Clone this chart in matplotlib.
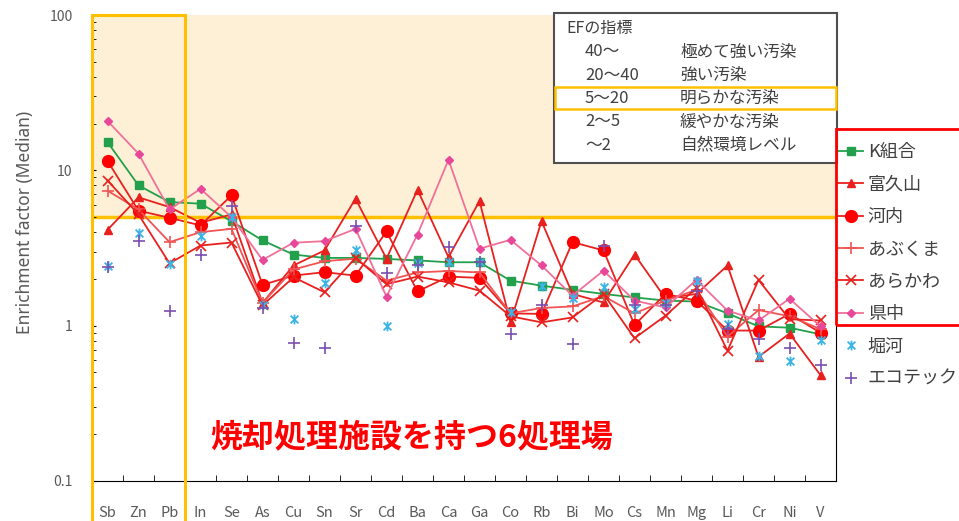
"""Median enrichment factors per element for eight disposal sites (log scale)."""

import matplotlib

matplotlib.use("Agg")
import matplotlib.pyplot as plt  # noqa: E402
import matplotlib.transforms as mtransforms  # noqa: E402
import numpy as np  # noqa: E402
from matplotlib.path import Path  # noqa: E402
from matplotlib.patches import Rectangle  # noqa: E402
from matplotlib.ticker import FixedFormatter, FixedLocator, LogLocator  # noqa: E402

plt.rcParams["font.family"] = ["Noto Sans CJK JP", "DejaVu Sans"]

W, H = 959, 521

elements = ["Sb", "Zn", "Pb", "In", "Se", "As", "Cu", "Sn", "Sr", "Cd", "Ba", "Ca",
            "Ga", "Co", "Rb", "Bi", "Mo", "Cs", "Mn", "Mg", "Li", "Cr", "Ni", "V"]

k_kumiai = [15.2, 8.0, 6.25, 6.1, 4.7, 3.54, 2.87, 2.73, 2.73, 2.69, 2.63, 2.56,
            2.56, 1.95, 1.81, 1.7, 1.6, 1.52, 1.45, 1.43, 1.2, 0.99, 0.97, 0.88]
tomihisayama = [4.14, 6.7, 5.8, 4.6, 5.2, 1.4, 2.44, 3.05, 6.57, 2.7, 7.5, 2.76,
                6.34, 1.05, 4.71, 1.6, 1.41, 2.87, 1.5, 1.6, 2.44, 0.63, 0.89, 0.48]
kawauchi = [11.5, 5.5, 4.95, 4.42, 6.9, 1.83, 2.1, 2.21, 2.1, 4.04, 1.66, 2.07,
            2.03, 1.2, 1.19, 3.45, 3.05, 1.01, 1.6, 1.45, 0.93, 0.93, 1.19, 0.9]
abukuma = [7.4, 5.6, 3.45, 4.0, 4.2, 1.4, 2.3, 2.6, 2.7, 1.95, 2.2, 2.25,
           2.2, 1.2, 1.3, 1.33, 1.55, 1.2, 1.45, 1.7, 0.85, 1.26, 1.15, 0.95]
arakawa = [8.6, 5.2, 2.52, 3.28, 3.43, 1.35, 2.05, 1.64, 2.73, 1.85, 2.07, 1.9,
           1.68, 1.15, 1.05, 1.13, 1.6, 0.83, 1.16, 1.75, 0.69, 1.97, 1.1, 1.08]
kenchu = [20.8, 12.8, 5.6, 7.6, 5.0, 2.65, 3.42, 3.5, 4.2, 1.54, 3.86, 11.7,
          3.13, 3.57, 2.44, 1.56, 2.26, 1.45, 1.31, 1.97, 1.25, 1.08, 1.49, 0.99]
horikawa = [2.41, 3.94, 2.5, 3.8, 5.0, 1.35, 1.1, 1.87, 3.05, 1.0, 2.55, 2.56,
            2.56, 1.22, 1.81, 1.5, 1.77, 1.28, 1.4, 1.95, 1.02, 0.64, 0.59, 0.81]
ecotec = [2.4, 3.5, 1.24, 2.83, 5.86, 1.3, 0.77, 0.72, 4.35, 2.17, 2.44, 3.2,
          2.56, 0.89, 1.35, 0.76, 3.28, 1.35, 1.35, 1.68, 0.95, 0.82, 0.72, 0.56]

ef_threshold = 5
ef_header = "EFの指標"
ef_ranges = ["40～", "20～40", "5～20", "2～5", "～2"]
ef_meanings = ["極めて強い汚染", "強い汚染", "明らかな汚染", "緩やかな汚染", "自然環境レベル"]

GOLD = "#FFC000"
GREY = "#595959"


def fx(px):
    return px / W


def fy(py):
    return 1 - py / H


# asterisk-style marker: an x crossed by a vertical stroke
star = Path(
    [(-1, -1), (1, 1), (-1, 1), (1, -1), (0, -1.25), (0, 1.25)],
    [Path.MOVETO, Path.LINETO, Path.MOVETO, Path.LINETO, Path.MOVETO, Path.LINETO],
)

fig = plt.figure(figsize=(W / 100, H / 100), dpi=100)
ax = fig.add_axes([fx(92), fy(481), fx(836) - fx(92), fy(15) - fy(481)])
x = np.arange(len(elements))

ax.set_yscale("log")
ax.set_ylim(0.1, 100)
ax.set_xlim(-0.5, len(elements) - 0.5)

# pollution band above EF 5 and the threshold line
ax.axhspan(ef_threshold, 100, color="#FEF0D6", lw=0, zorder=0)
ax.axhline(ef_threshold, color=GOLD, lw=2.5, zorder=1)

lines = [
    ("K組合", k_kumiai, dict(color="#22A04B", marker="s", ms=5.5)),
    ("富久山", tomihisayama, dict(color="#E8201E", marker="^", ms=5.5)),
    ("河内", kawauchi, dict(color="#E8201E", marker="o", ms=8.5, mfc="#FF0000", mec="#FF0000")),
    ("あぶくま", abukuma, dict(color="#F05454", marker="+", ms=8, mew=1.2)),
    ("あらかわ", arakawa, dict(color="#E8201E", marker="x", ms=7, mew=1.2)),
    ("県中", kenchu, dict(color="#F07098", marker="D", ms=4, mfc="#E8489A", mec="#E8489A")),
]
handles = []
for label, values, style in lines:
    (h,) = ax.plot(x, values, lw=1.3, label=label, zorder=3, **style)
    handles.append(h)

(h,) = ax.plot(x, horikawa, ls="none", marker=star, ms=7, mew=1.3,
               color="#3CB4E5", label="堀河", zorder=4)
handles.append(h)
(h,) = ax.plot(x, ecotec, ls="none", marker="+", ms=8, mew=1.2,
               color="#7B4FB0", label="エコテック", zorder=4)
handles.append(h)

# highlight box around the first three elements, running past the tick labels
blend = mtransforms.blended_transform_factory(ax.transData, ax.transAxes)
ax.add_patch(Rectangle((-0.5, -0.12), 3, 1.12, transform=blend, fill=False,
                       edgecolor=GOLD, lw=2.2, clip_on=False, zorder=5))

for side in ("top", "left"):
    ax.spines[side].set_visible(False)
ax.spines["right"].set_color("black")
ax.spines["bottom"].set_color("black")

ax.set_xticks(x)
ax.set_xticklabels(elements)
ax.set_xticks(np.arange(-0.5, len(elements)), minor=True)
ax.tick_params(axis="x", which="major", length=0, pad=18, labelsize=10.5, labelcolor=GREY)
ax.tick_params(axis="x", which="minor", direction="in", length=4, color="black")

ax.yaxis.set_major_locator(FixedLocator([0.1, 1, 10, 100]))
ax.yaxis.set_major_formatter(FixedFormatter(["0.1", "1", "10", "100"]))
ax.yaxis.set_minor_locator(LogLocator(base=10, subs=np.arange(2, 10)))
ax.tick_params(axis="y", which="both", direction="in", length=3, color="black",
               labelsize=10, labelcolor=GREY, pad=14)

ax.text(-0.04, ef_threshold, "5", transform=blend, ha="center", va="center",
        color="#FF0000", fontsize=14, family="Liberation Serif")
fig.text(fx(25), fy(222), "Enrichment factor (Median)", rotation=90, ha="center",
         va="center", color=GREY, fontsize=12.5, family=["Noto Sans", "DejaVu Sans"])

fig.text(fx(210), fy(437), "焼却処理施設を持つ6処理場", ha="left", va="center",
         color="#FF0000", fontsize=23, fontweight="bold")

# EF guide box
fig.add_artist(Rectangle((fx(554), fy(163)), fx(837) - fx(554), fy(13) - fy(163),
                         transform=fig.transFigure, facecolor="white",
                         edgecolor="#505050", lw=1.5, zorder=6))
fig.text(fx(566), fy(28), ef_header, ha="left", va="center", color="#404040",
         fontsize=11.5, zorder=7)
for i, (rng, meaning) in enumerate(zip(ef_ranges, ef_meanings)):
    yy = 52 + i * 23.3
    fig.text(fx(585), fy(yy), rng, ha="left", va="center", color="#404040",
             fontsize=12, zorder=7)
    fig.text(fx(680), fy(yy), meaning, ha="left", va="center", color="#404040",
             fontsize=12, zorder=7)
fig.add_artist(Rectangle((fx(555), fy(109)), fx(836) - fx(555), fy(87) - fy(109),
                         transform=fig.transFigure, fill=False, edgecolor=GOLD,
                         lw=1.8, zorder=8))

# site legend, with the six incineration sites boxed in red
leg = ax.legend(handles=handles, loc="upper left", bbox_to_anchor=(fx(838), fy(143)),
                bbox_transform=fig.transFigure, frameon=False, borderpad=0,
                borderaxespad=0, handlelength=1.4, handletextpad=0.25,
                labelspacing=0.8, fontsize=13, labelcolor="#404040")
fig.add_artist(Rectangle((fx(836), fy(325)), fx(W + 2) - fx(836), fy(129) - fy(325),
                         transform=fig.transFigure, fill=False, edgecolor="#FF0000",
                         lw=2, zorder=8))

fig.savefig("out.png", dpi=100)
